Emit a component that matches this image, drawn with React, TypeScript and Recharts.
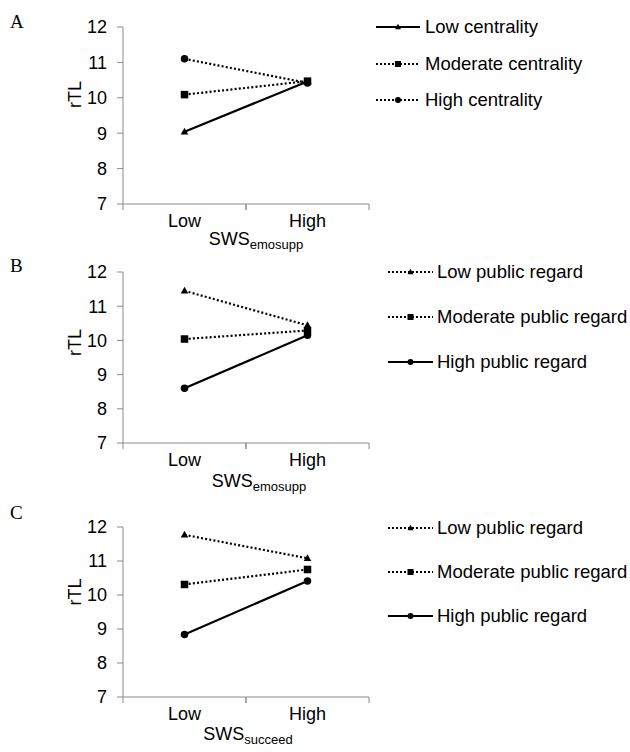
import React from 'react';
import { LineChart, Line, XAxis, YAxis, Legend } from 'recharts';

const categories = ['Low', 'High'];
const yTicks = [7, 8, 9, 10, 11, 12];

// Panel A
const lowCentrality = [9.04, 10.46];
const moderateCentrality = [10.09, 10.47];
const highCentrality = [11.1, 10.42];

// Panel B
const lowRegardB = [11.45, 10.44];
const moderateRegardB = [10.04, 10.29];
const highRegardB = [8.6, 10.15];

// Panel C
const lowRegardC = [11.77, 11.08];
const moderateRegardC = [10.31, 10.75];
const highRegardC = [8.84, 10.41];

const FONT = '"Liberation Sans", Arial, sans-serif';
const SERIF = '"Liberation Serif", "Times New Roman", serif';
const GRAY = '#8a8a8a';

type Shape = 'triangle' | 'square' | 'circle';
type Series = { name: string; values: number[]; shape: Shape; solid: boolean };

const Marker = ({ cx, cy, shape, size }: any) => {
  if (cx == null || cy == null) return null;
  if (shape === 'square') {
    return <rect x={cx - size / 2} y={cy - size / 2} width={size} height={size} fill="#000" />;
  }
  if (shape === 'circle') {
    return <circle cx={cx} cy={cy} r={size / 2} fill="#000" />;
  }
  const h = size * 0.9;
  return (
    <path
      d={`M${cx},${cy - h * 0.6}L${cx + size / 2},${cy + h * 0.4}L${cx - size / 2},${cy + h * 0.4}Z`}
      fill="#000"
    />
  );
};

const CategoryTick = (props: any) => {
  const { x, y, payload, half } = props;
  return (
    <g>
      <line x1={x - half} x2={x - half} y1={y} y2={y + 6} stroke={GRAY} />
      <line x1={x + half} x2={x + half} y1={y} y2={y + 6} stroke={GRAY} />
      <text x={x} y={y + 23} textAnchor="middle" fontSize={18} fontFamily={FONT} fill="#000">
        {payload.value}
      </text>
    </g>
  );
};

const SwsLabel = (props: any) => {
  const { viewBox, sub, gapY, shiftX } = props;
  if (!viewBox) return null;
  return (
    <text
      x={viewBox.x + viewBox.width / 2 + shiftX}
      y={viewBox.y + gapY}
      textAnchor="middle"
      fontSize={18}
      fontFamily={FONT}
      fill="#000"
    >
      SWS
      <tspan fontSize={13} dy={4}>
        {sub}
      </tspan>
    </text>
  );
};

const RtlLabel = (props: any) => {
  const { viewBox, shiftY } = props;
  if (!viewBox) return null;
  const cy = viewBox.y + viewBox.height / 2 + shiftY;
  return (
    <text
      x={75}
      y={cy}
      transform={`rotate(-90 75 ${cy})`}
      textAnchor="middle"
      dominantBaseline="central"
      fontSize={18}
      fontFamily={FONT}
      fill="#000"
    >
      rTL
    </text>
  );
};

const makeLegend = (series: Series[], rowHeight: number, lineWidth: number, gap: number) => (props: any) => {
  const { payload = [] } = props;
  const ordered = series
    .map((s) => ({ s, entry: payload.find((e: any) => e.value === s.name) }))
    .filter((it) => it.entry);
  return (
    <div style={{ fontFamily: FONT }}>
      {ordered.map(({ s, entry }: any) => (
        <div key={s.name} style={{ display: 'flex', alignItems: 'center', height: rowHeight }}>
          <svg width={lineWidth} height={10} style={{ display: 'block' }}>
            <line
              x1={0}
              x2={lineWidth}
              y1={5}
              y2={5}
              stroke="#000"
              strokeWidth={s.solid ? 2.2 : 2}
              strokeDasharray={s.solid ? undefined : '2 2'}
            />
            <Marker cx={lineWidth / 2} cy={5} shape={entry.type} size={6} />
          </svg>
          <span style={{ marginLeft: gap, fontSize: 18.5, color: '#000', whiteSpace: 'nowrap' }}>
            {entry.value}
          </span>
        </div>
      ))}
    </div>
  );
};

type PanelProps = {
  letter: string;
  letterTop: number;
  top: number;
  plotHeight: number;
  axisHeight: number;
  series: Series[];
  sub: string;
  subGap: number;
  subShift: number;
  rtlShift: number;
  legendTop: number;
  legendLeft: number;
  rowHeight: number;
  lineWidth: number;
  gap: number;
};

const Panel = (p: PanelProps) => {
  const rows = categories.map((c, i) => {
    const row: any = { cat: c };
    p.series.forEach((s, k) => {
      row['s' + k] = s.values[i];
    });
    return row;
  });
  const marginTop = 27;
  const height = marginTop + p.plotHeight + p.axisHeight;
  return (
    <div style={{ position: 'absolute', left: 0, top: p.top, width: 630, height }}>
      <div
        style={{
          position: 'absolute',
          left: 10,
          top: p.letterTop - p.top,
          fontFamily: SERIF,
          fontSize: 19,
          lineHeight: '19px',
          color: '#000',
        }}
      >
        {p.letter}
      </div>
      <LineChart
        width={630}
        height={height}
        data={rows}
        margin={{ top: marginTop, right: 261, bottom: 0, left: 0 }}
      >
        <XAxis
          dataKey="cat"
          scale="band"
          height={p.axisHeight}
          stroke={GRAY}
          tickLine={false}
          tickSize={0}
          tickMargin={0}
          tick={<CategoryTick half={61.5} />}
          interval={0}
          label={<SwsLabel sub={p.sub} gapY={p.subGap} shiftX={p.subShift} />}
        />
        <YAxis
          width={123}
          domain={[7, 12]}
          ticks={yTicks}
          interval={0}
          allowDataOverflow
          stroke={GRAY}
          tickLine={{ stroke: GRAY }}
          tickSize={6}
          tickMargin={10}
          tick={{ fill: '#000', fontSize: 18, fontFamily: FONT }}
          label={<RtlLabel shiftY={p.rtlShift} />}
        />
        <Legend
          layout="vertical"
          align="center"
          verticalAlign="middle"
          wrapperStyle={{ top: p.legendTop - p.top, left: p.legendLeft, width: 250 }}
          content={makeLegend(p.series, p.rowHeight, p.lineWidth, p.gap)}
        />
        {p.series.map((s, k) => (
          <Line
            key={s.name}
            dataKey={'s' + k}
            name={s.name}
            type="linear"
            stroke="#000"
            strokeWidth={2.2}
            strokeDasharray={s.solid ? undefined : '2 2.2'}
            legendType={s.shape}
            isAnimationActive={false}
            dot={(d: any) => <Marker key={d.key ?? d.index} cx={d.cx} cy={d.cy} shape={s.shape} size={7.5} />}
            activeDot={false}
          />
        ))}
      </LineChart>
    </div>
  );
};

const seriesA: Series[] = [
  { name: 'Low centrality', values: lowCentrality, shape: 'triangle', solid: true },
  { name: 'Moderate centrality', values: moderateCentrality, shape: 'square', solid: false },
  { name: 'High centrality', values: highCentrality, shape: 'circle', solid: false },
];

const seriesB: Series[] = [
  { name: 'Low public regard', values: lowRegardB, shape: 'triangle', solid: false },
  { name: 'Moderate public regard', values: moderateRegardB, shape: 'square', solid: false },
  { name: 'High public regard', values: highRegardB, shape: 'circle', solid: true },
];

const seriesC: Series[] = [
  { name: 'Low public regard', values: lowRegardC, shape: 'triangle', solid: false },
  { name: 'Moderate public regard', values: moderateRegardC, shape: 'square', solid: false },
  { name: 'High public regard', values: highRegardC, shape: 'circle', solid: true },
];

export default function App() {
  return (
    <div style={{ position: 'absolute', left: 0, top: 0, width: 630, height: 752, background: '#fff' }}>
      <Panel
        letter="A"
        letterTop={12}
        top={0}
        plotHeight={177}
        axisHeight={58}
        series={seriesA}
        sub="emosupp"
        subGap={41}
        subShift={10}
        rtlShift={-21}
        legendTop={27 - 18}
        legendLeft={376}
        rowHeight={36.5}
        lineWidth={44}
        gap={5}
      />
      <Panel
        letter="B"
        letterTop={256}
        top={245}
        plotHeight={171}
        axisHeight={58}
        series={seriesB}
        sub="emosupp"
        subGap={44}
        subShift={13}
        rtlShift={-15}
        legendTop={272 - 22.5}
        legendLeft={388}
        rowHeight={45}
        lineWidth={45}
        gap={4}
      />
      <Panel
        letter="C"
        letterTop={503}
        top={500}
        plotHeight={170}
        axisHeight={55}
        series={seriesC}
        sub="succeed"
        subGap={43}
        subShift={2}
        rtlShift={-20}
        legendTop={528 - 22}
        legendLeft={388}
        rowHeight={44}
        lineWidth={45}
        gap={4}
      />
    </div>
  );
}
